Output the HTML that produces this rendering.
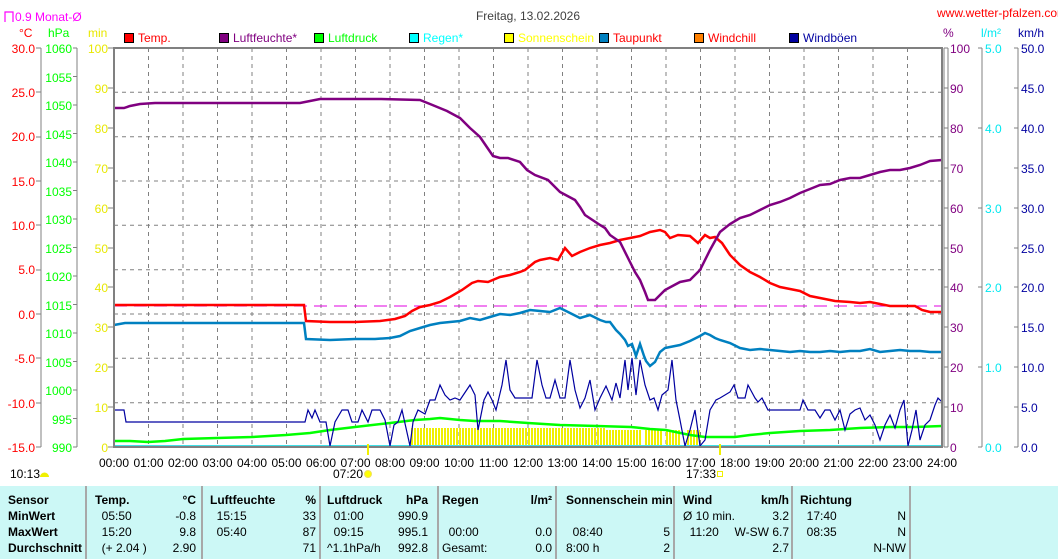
<!DOCTYPE html>
<html><head><meta charset="utf-8"><style>
html,body{margin:0;padding:0;background:#fff;}
body{width:1058px;height:559px;position:relative;overflow:hidden;font-family:"Liberation Sans",sans-serif;}
svg{position:absolute;left:0;top:0;}
text{font-family:"Liberation Sans",sans-serif;font-size:12px;}
.tb{position:absolute;left:0;top:486px;width:1058px;height:73px;background:#ccf8f6;font-size:12px;}
.c{position:absolute;top:0;height:73px;border-right:2px solid #a8a8a8;}
.r{position:absolute;white-space:pre;}
b{font-weight:bold;}
</style></head><body>
<svg width="1058" height="486" viewBox="0 0 1058 486">
<g stroke="#808080" stroke-dasharray="4,4" stroke-width="1">
<line x1="148.5" y1="48" x2="148.5" y2="447"/><line x1="183" y1="48" x2="183" y2="447"/><line x1="217.5" y1="48" x2="217.5" y2="447"/><line x1="252" y1="48" x2="252" y2="447"/><line x1="286.5" y1="48" x2="286.5" y2="447"/><line x1="321" y1="48" x2="321" y2="447"/><line x1="355.5" y1="48" x2="355.5" y2="447"/><line x1="390" y1="48" x2="390" y2="447"/><line x1="424.5" y1="48" x2="424.5" y2="447"/><line x1="459" y1="48" x2="459" y2="447"/><line x1="493.5" y1="48" x2="493.5" y2="447"/><line x1="528" y1="48" x2="528" y2="447"/><line x1="562.5" y1="48" x2="562.5" y2="447"/><line x1="597" y1="48" x2="597" y2="447"/><line x1="631.5" y1="48" x2="631.5" y2="447"/><line x1="666" y1="48" x2="666" y2="447"/><line x1="700.5" y1="48" x2="700.5" y2="447"/><line x1="735" y1="48" x2="735" y2="447"/><line x1="769.5" y1="48" x2="769.5" y2="447"/><line x1="804" y1="48" x2="804" y2="447"/><line x1="838.5" y1="48" x2="838.5" y2="447"/><line x1="873" y1="48" x2="873" y2="447"/><line x1="907.5" y1="48" x2="907.5" y2="447"/>
<line x1="114" y1="92.3" x2="942" y2="92.3"/><line x1="114" y1="136.7" x2="942" y2="136.7"/><line x1="114" y1="181" x2="942" y2="181"/><line x1="114" y1="225.3" x2="942" y2="225.3"/><line x1="114" y1="269.7" x2="942" y2="269.7"/><line x1="114" y1="314" x2="942" y2="314"/><line x1="114" y1="358.3" x2="942" y2="358.3"/><line x1="114" y1="402.7" x2="942" y2="402.7"/>
</g>
<line x1="114" y1="306" x2="942" y2="306" stroke="#e000e0" stroke-dasharray="13,7"/>
<defs><pattern id="sp" width="3" height="20" patternUnits="userSpaceOnUse"><rect width="2" height="20" fill="#f0f000"/></pattern></defs>
<rect x="411" y="428" width="195" height="19" fill="url(#sp)"/>
<rect x="606" y="430" width="36" height="17" fill="url(#sp)"/>
<rect x="644" y="430" width="18" height="17" fill="url(#sp)"/>
<rect x="666" y="430" width="14" height="17" fill="url(#sp)"/>
<rect x="686" y="430" width="14" height="17" fill="url(#sp)"/>
<line x1="114" y1="446" x2="942" y2="446" stroke="#40e0e8" stroke-width="2"/>
<polyline fill="none" stroke="#00ff00" stroke-width="2.5" points="114,441 130,441 148,442 165,441 183,439 217,438 252,437 286,435 310,433 330,430 355,427 390,423 415,420 430,419 440,418 460,420 475,421 500,421 528,423 560,425 597,426 631,427 650,429 666,430 690,435 705,437 735,437 750,435 770,433 800,431 830,430 860,428 890,427 915,427 942,426"/>
<polyline fill="none" stroke="#0000a0" stroke-width="1.2" points="114,410 124,410 126,422 305,422 308,410 312,418 315,410 320,422 326,422 330,446 335,422 342,410 348,410 352,422 358,422 362,410 368,422 372,410 380,410 385,420 390,446 394,425 398,422 402,410 410,446 413,422 418,410 425,414 430,400 435,400 440,385 445,395 450,400 455,398 460,400 470,385 475,395 478,430 484,400 488,392 492,400 496,410 502,385 506,360 510,390 515,398 520,398 528,398 532,398 537,360 542,385 546,398 550,398 555,380 560,398 565,398 570,360 575,390 580,408 585,398 590,380 595,410 600,398 606,386 612,400 616,383 620,398 625,360 628,390 632,358 636,395 640,360 645,385 650,400 654,398 658,410 662,395 668,390 672,360 676,400 680,420 685,446 690,430 695,410 700,446 705,440 710,410 716,400 720,398 730,392 734,385 738,398 745,398 748,385 755,398 758,402 762,398 768,410 775,410 800,410 803,400 808,410 815,410 820,418 825,410 830,410 835,420 840,410 845,430 850,414 855,410 860,408 865,420 870,415 875,425 880,440 885,425 890,415 895,428 900,410 904,400 908,446 912,430 916,410 920,440 925,425 930,420 935,405 938,398 942,402"/>
<polyline fill="none" stroke="#0080c0" stroke-width="2.5" points="114,325 125,323 304,323 306,339 330,340 355,339 375,339 390,338 400,336 410,331 420,328 430,325 440,323 450,322 460,321 470,318 480,320 490,317 500,314 510,315 520,313 530,310 540,311 550,312 560,308 570,313 580,318 590,315 600,320 606,322 610,322 616,330 620,334 625,340 628,346 632,344 636,356 640,344 644,356 646,361 650,366 655,362 660,352 665,348 670,347 680,345 690,341 700,336 705,333 710,335 715,338 720,340 730,343 740,348 750,350 760,349 770,350 780,351 790,352 800,351 810,352 820,352 830,351 840,352 850,351 860,351 870,349 880,352 890,351 900,350 910,351 920,351 930,352 942,352"/>
<polyline fill="none" stroke="#ff0000" stroke-width="2.5" points="114,305 304,305 306,321 330,322 355,322 380,321 395,319 405,316 412,311 420,307 430,305 440,302 450,297 462,290 472,283 478,281 488,282 500,277 510,275 520,272 525,270 535,262 540,260 550,258 558,260 565,248 572,256 580,252 590,248 600,245 610,243 620,240 630,238 640,236 650,232 660,230 665,232 670,238 678,235 690,236 698,243 705,235 710,238 715,237 722,243 730,255 740,265 750,272 760,277 770,283 780,287 790,289 800,291 810,296 820,298 835,301 850,302 860,303 870,302 880,304 890,306 905,306 915,306 922,310 930,312 942,312"/>
<polyline fill="none" stroke="#800080" stroke-width="2.5" points="114,108 124,108 130,106 140,104 155,103 300,103 310,101 320,99 330,99 380,99 420,100 430,104 447,111 460,118 470,128 480,137 493,156 500,158 508,158 520,162 527,170 535,175 548,180 560,192 575,200 580,207 585,215 600,225 605,228 610,235 620,242 630,262 635,272 640,280 645,292 648,300 655,300 665,290 680,282 690,280 700,270 710,250 720,232 730,224 740,218 750,215 760,210 770,205 780,202 790,198 800,193 810,189 820,185 830,184 840,180 850,178 860,178 870,175 880,172 890,170 900,170 910,168 920,165 930,161 942,160"/>
<rect x="114" y="48" width="828" height="399" fill="none" stroke="#808080" stroke-width="2"/>
<line x1="944" y1="48" x2="944" y2="447" stroke="#808080" stroke-width="1"/>
<g stroke="#808080"><line x1="41" y1="48" x2="41" y2="447"/><line x1="77" y1="48" x2="77" y2="447"/><line x1="948" y1="48" x2="948" y2="447"/><line x1="982" y1="48" x2="982" y2="447"/><line x1="1018" y1="48" x2="1018" y2="447"/></g>
<g font-size="12" text-anchor="end" fill="#ff0000">
<text x="35" y="53">30.0</text><text x="35" y="97">25.0</text><text x="35" y="141">20.0</text><text x="35" y="186">15.0</text><text x="35" y="230">10.0</text><text x="35" y="274">5.0</text><text x="35" y="319">0.0</text><text x="35" y="363">-5.0</text><text x="35" y="408">-10.0</text><text x="35" y="452">-15.0</text></g>
<g stroke="#808080"><path d="M36 48h5M36 92h5M36 137h5M36 181h5M36 225h5M36 270h5M36 314h5M36 358h5M36 403h5M36 447h5"/>
<path d="M73 48h4M73 76.5h4M73 105h4M73 133.5h4M73 162h4M73 190.5h4M73 219h4M73 247.5h4M73 276h4M73 304.5h4M73 333h4M73 361.5h4M73 390h4M73 418.5h4M73 447h4"/>
<path d="M108 48h6M108 88h6M108 128h6M108 168h6M108 208h6M108 248h6M108 287h6M108 327h6M108 367h6M108 407h6M108 447h6"/>
<path d="M944 48h4M944 88h4M944 128h4M944 168h4M944 208h4M944 248h4M944 287h4M944 327h4M944 367h4M944 407h4M944 447h4"/>
<path d="M978 48h4M978 128h4M978 208h4M978 287h4M978 367h4M978 447h4"/>
<path d="M1014 48h4M1014 88h4M1014 128h4M1014 168h4M1014 208h4M1014 248h4M1014 287h4M1014 327h4M1014 367h4M1014 407h4M1014 447h4"/></g>
<g text-anchor="end" fill="#00ff00"><text x="72" y="53">1060</text><text x="72" y="82">1055</text><text x="72" y="110">1050</text><text x="72" y="139">1045</text><text x="72" y="167">1040</text><text x="72" y="196">1035</text><text x="72" y="224">1030</text><text x="72" y="253">1025</text><text x="72" y="281">1020</text><text x="72" y="310">1015</text><text x="72" y="338">1010</text><text x="72" y="367">1005</text><text x="72" y="395">1000</text><text x="72" y="424">995</text><text x="72" y="452">990</text></g>
<g text-anchor="end" fill="#e8e800"><text x="108" y="53">100</text><text x="108" y="93">90</text><text x="108" y="133">80</text><text x="108" y="173">70</text><text x="108" y="213">60</text><text x="108" y="253">50</text><text x="108" y="292">40</text><text x="108" y="332">30</text><text x="108" y="372">20</text><text x="108" y="412">10</text><text x="108" y="452">0</text></g>
<g fill="#800080"><text x="950" y="53">100</text><text x="950" y="93">90</text><text x="950" y="133">80</text><text x="950" y="173">70</text><text x="950" y="213">60</text><text x="950" y="253">50</text><text x="950" y="292">40</text><text x="950" y="332">30</text><text x="950" y="372">20</text><text x="950" y="412">10</text><text x="950" y="452">0</text></g>
<g fill="#00e8f0"><text x="985" y="53">5.0</text><text x="985" y="133">4.0</text><text x="985" y="213">3.0</text><text x="985" y="292">2.0</text><text x="985" y="372">1.0</text><text x="985" y="452">0.0</text></g>
<g fill="#0000a0"><text x="1021" y="53">50.0</text><text x="1021" y="93">45.0</text><text x="1021" y="133">40.0</text><text x="1021" y="173">35.0</text><text x="1021" y="213">30.0</text><text x="1021" y="253">25.0</text><text x="1021" y="292">20.0</text><text x="1021" y="332">15.0</text><text x="1021" y="372">10.0</text><text x="1021" y="412">5.0</text><text x="1021" y="452">0.0</text></g>
<text x="15" y="21" fill="#ff00ff">0.9 Monat-Ø</text>
<path d="M5 22V12h8v10" fill="none" stroke="#ff00ff" stroke-width="1.2"/>
<text x="19" y="37" fill="#ff0000">°C</text><text x="48" y="37" fill="#00ff00">hPa</text><text x="88" y="37" fill="#e8e800">min</text>
<text x="943" y="37" fill="#800080">%</text><text x="981" y="37" fill="#00e8f0">l/m²</text><text x="1018" y="37" fill="#0000a0">km/h</text>
<text x="528" y="20" text-anchor="middle" font-size="14" fill="#404040">Freitag, 13.02.2026</text>
<text x="937" y="17" fill="#ff0000" font-size="11">www.wetter-pfalzen.com</text>
<g stroke="#000" stroke-width="1">
<rect x="124.5" y="33.5" width="9" height="9" fill="#ff0000"/><rect x="219.5" y="33.5" width="9" height="9" fill="#800080"/><rect x="314.5" y="33.5" width="9" height="9" fill="#00ff00"/><rect x="409.5" y="33.5" width="9" height="9" fill="#00ffff"/><rect x="504.5" y="33.5" width="9" height="9" fill="#ffff00"/><rect x="599.5" y="33.5" width="9" height="9" fill="#0080c0"/><rect x="694.5" y="33.5" width="9" height="9" fill="#ff8000"/><rect x="789.5" y="33.5" width="9" height="9" fill="#0000a0"/></g>
<text x="138" y="42" fill="#ff0000">Temp.</text><text x="233" y="42" fill="#800080">Luftfeuchte*</text><text x="328" y="42" fill="#00ff00">Luftdruck</text><text x="423" y="42" fill="#00ffff">Regen*</text><text x="518" y="42" fill="#ffff00">Sonnenschein</text><text x="613" y="42" fill="#ff0000">Taupunkt</text><text x="708" y="42" fill="#ff0000">Windchill</text><text x="803" y="42" fill="#0000a0">Windböen</text>
<g text-anchor="middle" fill="#000">
<text x="114" y="467">00:00</text><text x="148.5" y="467">01:00</text><text x="183" y="467">02:00</text><text x="217.5" y="467">03:00</text><text x="252" y="467">04:00</text><text x="286.5" y="467">05:00</text><text x="321" y="467">06:00</text><text x="355.5" y="467">07:00</text><text x="390" y="467">08:00</text><text x="424.5" y="467">09:00</text><text x="459" y="467">10:00</text><text x="493.5" y="467">11:00</text><text x="528" y="467">12:00</text><text x="562.5" y="467">13:00</text><text x="597" y="467">14:00</text><text x="631.5" y="467">15:00</text><text x="666" y="467">16:00</text><text x="700.5" y="467">17:00</text><text x="735" y="467">18:00</text><text x="769.5" y="467">19:00</text><text x="804" y="467">20:00</text><text x="838.5" y="467">21:00</text><text x="873" y="467">22:00</text><text x="907.5" y="467">23:00</text><text x="942" y="467">24:00</text></g>
<rect x="367" y="444" width="2" height="11" fill="#f0f000"/><rect x="719" y="444" width="2" height="11" fill="#f0f000"/>
<text x="10" y="478">10:13</text><path d="M40 477a4 4 0 0 1 9 0z" fill="#f0f000"/>
<text x="333" y="478">07:20</text><circle cx="368" cy="474" r="3.5" fill="#ffff00" stroke="#f0e060"/>
<text x="686" y="478">17:33</text><rect x="717.5" y="471.5" width="5" height="5" fill="none" stroke="#f0f000"/>
</svg>
<div class="tb">
<div class="c" style="left:0;width:85px"></div><div class="c" style="left:87px;width:114px"></div><div class="c" style="left:203px;width:116px"></div><div class="c" style="left:321px;width:116px"></div><div class="c" style="left:439px;width:116px"></div><div class="c" style="left:557px;width:116px"></div><div class="c" style="left:675px;width:116px"></div><div class="c" style="left:793px;width:116px"></div>
<div class="r" style="left:8px;top:6px;line-height:16px"><b>Sensor<br>MinWert<br>MaxWert<br>Durchschnitt</b></div>
<div class="r" style="left:95px;top:6px;line-height:16px"><b>Temp.</b><br>  05:50<br>  15:20<br>  (+ 2.04 )</div>
<div class="r" style="left:150px;top:6px;line-height:16px;text-align:right;width:46px"><b>°C</b><br>-0.8<br>9.8<br>2.90</div>
<div class="r" style="left:210px;top:6px;line-height:16px"><b>Luftfeuchte</b><br>  15:15<br>  05:40</div>
<div class="r" style="left:280px;top:6px;line-height:16px;text-align:right;width:36px"><b>%</b><br>33<br>87<br>71</div>
<div class="r" style="left:327px;top:6px;line-height:16px"><b>Luftdruck</b><br>  01:00<br>  09:15<br>^1.1hPa/h</div>
<div class="r" style="left:380px;top:6px;line-height:16px;text-align:right;width:48px"><b>hPa</b><br>990.9<br>995.1<br>992.8</div>
<div class="r" style="left:442px;top:6px;line-height:16px"><b>Regen</b><br><br>  00:00<br>Gesamt:</div>
<div class="r" style="left:500px;top:6px;line-height:16px;text-align:right;width:52px"><b>l/m²</b><br><br>0.0<br>0.0</div>
<div class="r" style="left:566px;top:6px;line-height:16px"><b>Sonnenschein min</b><br><br>  08:40<br>8:00 h</div>
<div class="r" style="left:620px;top:6px;line-height:16px;text-align:right;width:50px"><br><br>5<br>2</div>
<div class="r" style="left:683px;top:6px;line-height:16px"><b>Wind</b><br>Ø 10 min.<br>  11:20</div>
<div class="r" style="left:720px;top:6px;line-height:16px;text-align:right;width:69px"><b>km/h</b><br>3.2<br>W-SW 6.7<br>2.7</div>
<div class="r" style="left:800px;top:6px;line-height:16px"><b>Richtung</b><br>  17:40<br>  08:35</div>
<div class="r" style="left:840px;top:6px;line-height:16px;text-align:right;width:66px"><br>N<br>N<br>N-NW</div>
</div>
</body></html>
